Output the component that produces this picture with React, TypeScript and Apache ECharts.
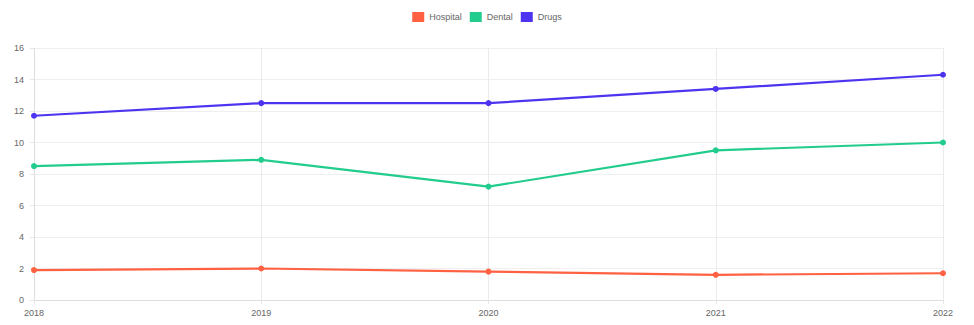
import React, { useEffect, useRef } from "react";
import * as echarts from "echarts";

const years = ["2018", "2019", "2020", "2021", "2022"];
const hospital = [1.9, 2.0, 1.8, 1.6, 1.7];
const dental = [8.5, 8.9, 7.2, 9.5, 10.0];
const drugs = [11.7, 12.5, 12.5, 13.4, 14.3];

const colors = { hospital: "#ff6142", dental: "#22cc8c", drugs: "#4c34f0" };

export default function App() {
  const ref = useRef<HTMLDivElement>(null);

  useEffect(() => {
    if (!ref.current) return;
    const chart = echarts.init(ref.current, undefined, { renderer: "svg" });
    const mk = (name: string, data: number[], color: string) => ({
      name,
      type: "line",
      data,
      symbol: "circle",
      symbolSize: 6,
      lineStyle: { width: 2.2, color },
      itemStyle: { color },
      emphasis: { disabled: true },
    });
    chart.setOption({
      animation: false,
      textStyle: { fontFamily: "Liberation Sans, Arial, sans-serif" },
      legend: {
        top: 4,
        left: "center",
        padding: 0,
        itemWidth: 12,
        itemHeight: 10,
        itemGap: 8,
        icon: "rect",
        textStyle: { fontSize: 9, color: "#666" },
        data: ["Hospital", "Dental", "Drugs"],
      },
      grid: { left: 26, right: 23, top: 40, bottom: 17 },
      xAxis: {
        type: "category",
        data: years,
        boundaryGap: false,
        axisLine: { lineStyle: { color: "#ddd" } },
        axisTick: { show: true, length: 4, lineStyle: { color: "#e6e6e6" } },
        axisLabel: { fontSize: 9, color: "#666", margin: 8 },
        splitLine: { show: true, lineStyle: { color: "#ebebeb" } },
      },
      yAxis: {
        type: "value",
        min: 0,
        max: 16,
        interval: 2,
        axisLine: { show: true, lineStyle: { color: "#ddd" } },
        axisTick: { show: true, length: 4, lineStyle: { color: "#e6e6e6" } },
        axisLabel: { fontSize: 9, color: "#666", margin: 10 },
        splitLine: { show: true, lineStyle: { color: "#efefef" } },
      },
      series: [
        mk("Hospital", hospital, colors.hospital),
        mk("Dental", dental, colors.dental),
        mk("Drugs", drugs, colors.drugs),
      ],
    });
    return () => chart.dispose();
  }, []);

  return <div ref={ref} style={{ width: 958, height: 309 }} />;
}
